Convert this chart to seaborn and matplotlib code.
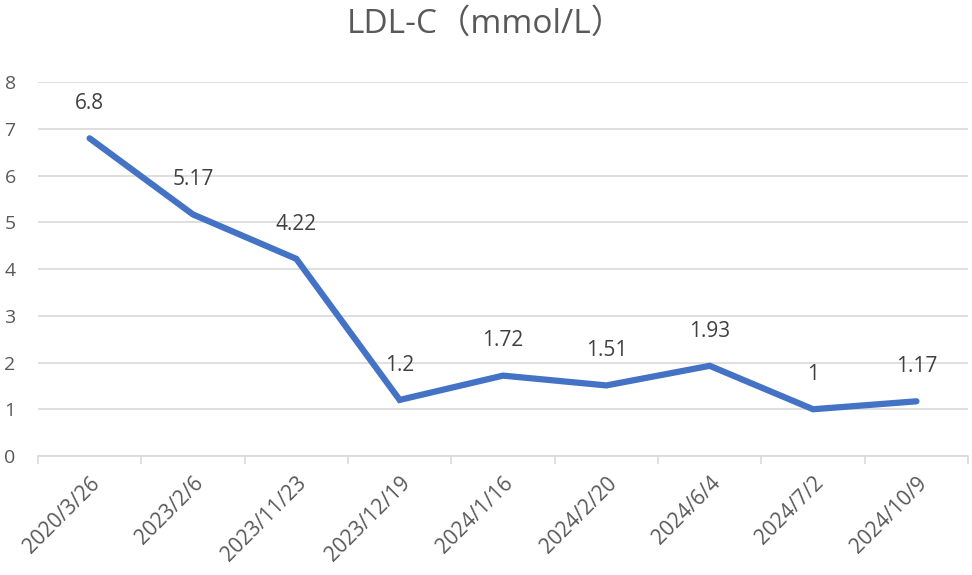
import pandas as pd
import numpy as np
import matplotlib.pyplot as plt
import seaborn as sns

# data
dates = ['2020/3/26', '2023/2/6', '2023/11/23', '2023/12/19', '2024/1/16',
         '2024/2/20', '2024/6/4', '2024/7/2', '2024/10/9']
ldl = [6.8, 5.17, 4.22, 1.2, 1.72, 1.51, 1.93, 1.0, 1.17]
labels = ['6.8', '5.17', '4.22', '1.2', '1.72', '1.51', '1.93', '1', '1.17']

df = pd.DataFrame({'date': dates, 'ldl': ldl})
df['pos'] = np.arange(len(df))

sns.set_style('white')
plt.rcParams['font.family'] = ['Open Sans', 'Noto Sans CJK SC', 'DejaVu Sans']

fig = plt.figure(figsize=(9.72, 5.75), dpi=100)
ax = fig.add_axes([0.039, 0.207, 0.957, 0.65])

sns.lineplot(data=df, x='pos', y='ldl', ax=ax, color='#4472C4', linewidth=4.5,
             sort=False, solid_capstyle='round', solid_joinstyle='miter')

for p, v, t in zip(df['pos'], df['ldl'], labels):
    ax.annotate(t, (p, v), xytext=(0, 25), textcoords='offset points',
                ha='center', va='center', fontsize=15, color='#404040')

ax.set_xlim(-0.5, len(dates) - 0.5)
ax.set_ylim(0, 8)
ax.set_yticks(range(0, 9))
ax.yaxis.grid(True, color='#D9D9D9', linewidth=1.2)
ax.set_axisbelow(True)

# categories labelled at centres, ticks at band edges (Excel style)
ax.set_xticks(df['pos'])
ax.set_xticklabels(dates, rotation=45, ha='right', rotation_mode='anchor',
                   fontsize=15, color='#595959')
ax.set_xticks(np.arange(-0.5, len(dates)), minor=True)
ax.tick_params(axis='x', which='major', length=0, pad=12)
ax.tick_params(axis='x', which='minor', length=6, width=1.2, color='#D9D9D9',
               direction='out', bottom=True)
ax.tick_params(axis='y', length=0, labelsize=14, labelcolor='#595959', pad=16)

for s in ['top', 'right', 'left']:
    ax.spines[s].set_visible(False)
ax.spines['bottom'].set_color('#D9D9D9')
ax.spines['bottom'].set_linewidth(1.2)

ax.set_xlabel('')
ax.set_ylabel('')
fig.text(0.5, 1 - 24 / 575, 'LDL-C（mmol/L）', fontsize=24, color='#595959',
         ha='center', va='center')

fig.savefig('out.png', dpi=100)
